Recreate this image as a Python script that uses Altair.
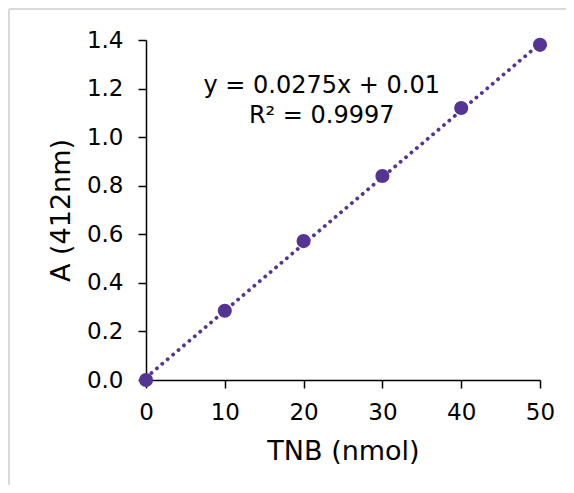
import altair as alt
import pandas as pd

# Data
tnb_nmol = [0, 10, 20, 30, 40, 50]
absorbance = [0.0, 0.285, 0.572, 0.840, 1.12, 1.38]

# Linear trendline endpoints (y = 0.0275x + 0.01)
trend_x = [0, 50]
trend_y = [0.01, 1.385]

eq_lines = ["y = 0.0275x + 0.01", "R² = 0.9997"]
eq_x = [22.3, 22.3]
eq_y = [1.182, 1.058]

PURPLE = "#553593"
FONT = "DejaVu Sans"

pts = pd.DataFrame({"x": tnb_nmol, "y": absorbance})
trend = pd.DataFrame({"x": trend_x, "y": trend_y})
eq = pd.DataFrame({"x": eq_x, "y": eq_y, "t": eq_lines})

xs = alt.Scale(domain=[0, 50], nice=False, zero=False)
ys = alt.Scale(domain=[0, 1.4], nice=False, zero=False)

x_axis = alt.Axis(values=[0, 10, 20, 30, 40, 50], title="TNB (nmol)", grid=False,
                  labelFontSize=23, titleFontSize=27, labelPadding=13, titlePadding=14,
                  tickSize=8, format="d", labelFlush=False)
y_axis = alt.Axis(values=[0, 0.2, 0.4, 0.6, 0.8, 1.0, 1.2, 1.4], title="A (412nm)", grid=False,
                  labelFontSize=23, titleFontSize=27, labelPadding=15, titlePadding=11,
                  tickSize=8, format=".1f", labelFlush=False)

line = alt.Chart(trend).mark_line(
    color=PURPLE, strokeWidth=3.8, strokeDash=[0.1, 7], strokeCap="round"
).encode(
    x=alt.X("x:Q", scale=xs, axis=x_axis),
    y=alt.Y("y:Q", scale=ys, axis=y_axis),
)

points = alt.Chart(pts).mark_circle(size=200, color=PURPLE, opacity=1).encode(
    x=alt.X("x:Q", scale=xs),
    y=alt.Y("y:Q", scale=ys),
)

text = alt.Chart(eq).mark_text(font=FONT, fontSize=24, color="#000000", align="center",
                               baseline="alphabetic").encode(
    x=alt.X("x:Q", scale=xs),
    y=alt.Y("y:Q", scale=ys),
    text="t:N",
)

border_left = alt.Chart(pts).mark_rule(color="#d9d9d9", strokeWidth=2).encode(
    x=alt.value(-137), y=alt.value(-31), y2=alt.value(470)
)
border_top = alt.Chart(pts).mark_rule(color="#d9d9d9", strokeWidth=2).encode(
    x=alt.value(-137), x2=alt.value(430), y=alt.value(-31)
)

chart = alt.layer(border_left, border_top, line, points, text).properties(
    width=394, height=340,
    autosize=alt.AutoSizeParams(type="none"),
    padding={"left": 138, "top": 32, "right": 26, "bottom": 105},
).configure_view(stroke=None).configure_axis(
    labelFont=FONT, titleFont=FONT, labelColor="#000000", titleColor="#000000",
    domainColor="#000000", tickColor="#000000", domainWidth=1.5, tickWidth=1.5,
    titleFontWeight="normal",
)

chart.save("out.html", embed_options={"renderer": "svg", "actions": False})
